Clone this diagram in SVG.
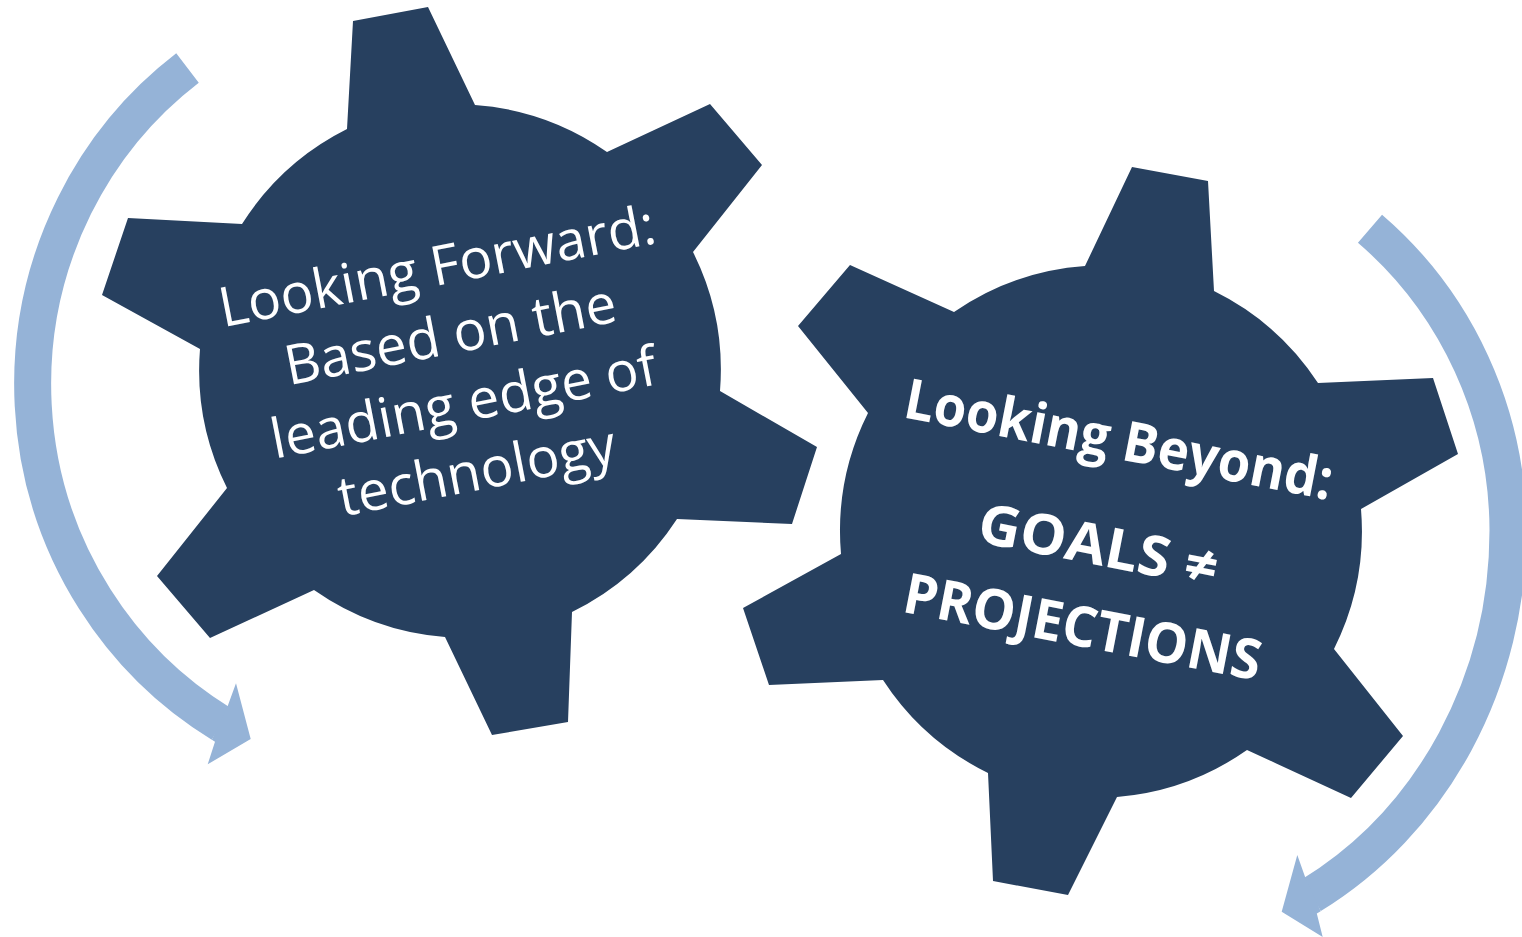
<svg xmlns="http://www.w3.org/2000/svg" width="1522" height="937" viewBox="0 0 1522 937">
  <style>
    .gear { fill: #27405F; }
    .band { fill: none; stroke: #95B3D7; stroke-width: 37; stroke-linecap: butt; }
    .head { fill: #95B3D7; }
    .t1 { font-family: "Open Sans", "Liberation Sans", sans-serif; font-size: 55px; fill: #FFFFFF; text-anchor: middle; }
    .t2 { font-family: "Open Sans", "Liberation Sans", sans-serif; font-size: 56px; font-weight: bold; fill: #FFFFFF; text-anchor: middle; }
  </style>
  <rect width="1522" height="937" fill="#FFFFFF"/>

  <!-- curved cycle arrows: elliptical stroked band plus a head that also fills the joint -->
  <g id="connectors">
    <g id="arrow-left">
      <path class="band" d="M187.5,68 A388.5,396 0 0 0 221.4,724"/>
      <polygon class="head" points="215,741.7 207.7,764.3 250.7,739 236,683.2 227.7,706 211.9,739.8"/>
    </g>
    <g id="arrow-right">
      <path class="band" d="M1370,228.7 A388,396 0 0 1 1508,530 A388,419.5 0 0 1 1311.2,895.3"/>
      <polygon class="head" points="1305.2,877.3 1297.3,855 1281.7,911.7 1322.7,937 1316.8,913.5 1320.7,911.2"/>
    </g>
  </g>

  <!-- left gear -->
  <g id="gear-forward">
    <path class="gear" d="M475,105 A264,264 0 0 1 607,152 L710,104 L762,165 L693,252 A264,264 0 0 1 720,391 L817,447 L792,524 L677,519 A264,264 0 0 1 572,612 L568,722 L492,735 L445,637 A264,264 0 0 1 314,590 L210,638 L157,576 L227,488 A264,264 0 0 1 200,349 L102,295 L128,218 L242,224 A264,264 0 0 1 347,129 L353,21 L428,7 Z"/>
    <g transform="translate(461,390) rotate(-11)">
      <text class="t1" x="0" y="-107">Looking Forward:</text>
      <text class="t1" x="0" y="-37.5">Based on the</text>
      <text class="t1" x="0" y="32">leading edge of</text>
      <text class="t1" x="0" y="101.5">technology</text>
    </g>
  </g>

  <!-- right gear -->
  <g id="gear-beyond">
    <path class="gear" d="M1085,266 L1132,167 L1208,181 L1214,291 A264,264 0 0 1 1318,383 L1433,378 L1458,454 L1361,509 A264,264 0 0 1 1334,649 L1403,736 L1351,798 L1247,750 A264,264 0 0 1 1117,797 L1068,895 L993,881 L988,773 A264,264 0 0 1 883,680 L769,685 L743,608 L841,554 A264,264 0 0 1 868,413 L798,326 L850,265 L954,312 A264,264 0 0 1 1085,266 Z"/>
    <g transform="translate(1100,532) rotate(11)">
      <text class="t2" x="1" y="-75" textLength="435" lengthAdjust="spacingAndGlyphs">Looking Beyond:</text>
      <text class="t2" x="1" y="33" textLength="243" lengthAdjust="spacingAndGlyphs">GOALS ≠</text>
      <text class="t2" x="1" y="116" textLength="363" lengthAdjust="spacingAndGlyphs">PROJECTIONS</text>
    </g>
  </g>
</svg>
